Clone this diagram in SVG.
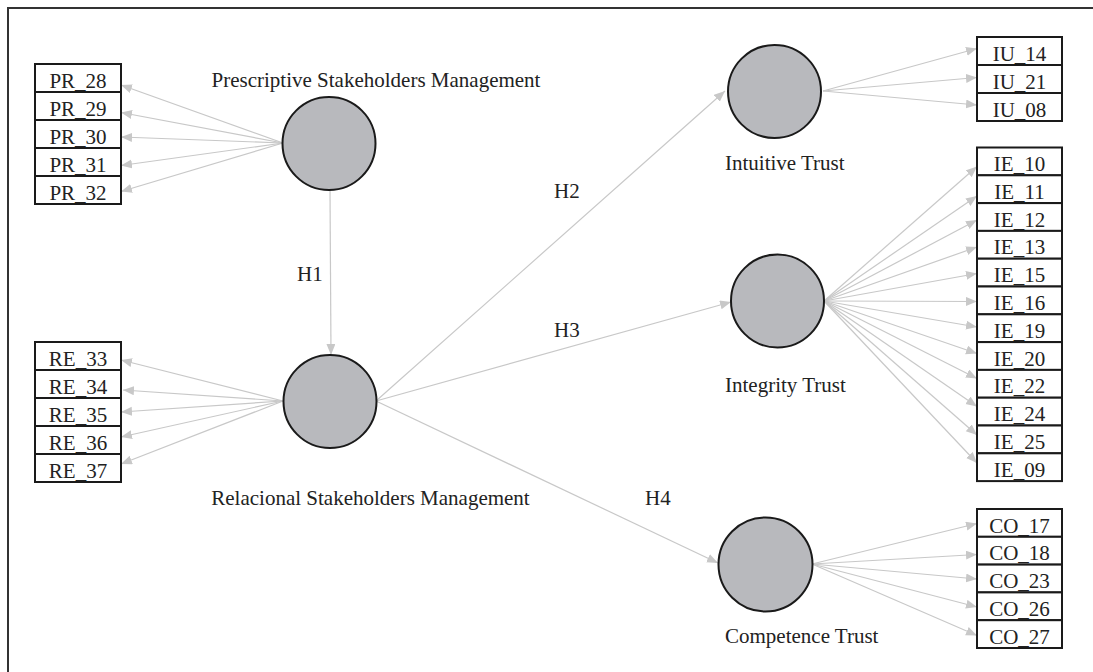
<svg xmlns="http://www.w3.org/2000/svg" width="1093" height="672" viewBox="0 0 1093 672">
<defs>
<style>
.lv{fill:#b8b9bd;stroke:#1a1a1a;stroke-width:2}
.bx{fill:#fff;stroke:#1a1a1a;stroke-width:2}
.t{font-family:"Liberation Serif","Times New Roman",serif;font-size:21px;fill:#222}
.c{text-anchor:middle}
.cn line{stroke:#c8c8c8;stroke-width:1.2;marker-end:url(#ah)}
</style>
<marker id="ah" markerUnits="userSpaceOnUse" markerWidth="12" markerHeight="10" refX="11" refY="4.5" orient="auto">
<path d="M0,0 L11,4.5 L0,9 z" fill="#c8c8c8"/>
</marker>
</defs>
<rect width="1093" height="672" fill="#fff"/>
<path d="M8,672 V8 H1093" fill="none" stroke="#333" stroke-width="2"/>

<g id="connectors" class="cn">
<line x1="283" y1="143" x2="121" y2="85"/>
<line x1="283" y1="143" x2="121" y2="112.5"/>
<line x1="283" y1="143" x2="121" y2="137"/>
<line x1="283" y1="143" x2="121" y2="165.5"/>
<line x1="283" y1="143" x2="121" y2="191.5"/>
<line x1="283" y1="401" x2="121" y2="360"/>
<line x1="283" y1="401" x2="123" y2="390"/>
<line x1="283" y1="401" x2="121" y2="412"/>
<line x1="283" y1="401" x2="121" y2="437"/>
<line x1="283" y1="401" x2="121" y2="464"/>
<line x1="330" y1="190" x2="331" y2="355"/>
<line x1="376" y1="401" x2="725" y2="91"/>
<line x1="376" y1="401" x2="731" y2="302"/>
<line x1="376" y1="401" x2="718" y2="563"/>
<line x1="823" y1="91" x2="977" y2="48.5"/>
<line x1="823" y1="91" x2="977" y2="77.5"/>
<line x1="823" y1="91" x2="977" y2="105"/>
<line x1="824" y1="301" x2="977" y2="166.5"/>
<line x1="824" y1="301" x2="977" y2="196"/>
<line x1="824" y1="301" x2="977" y2="220"/>
<line x1="824" y1="301" x2="977" y2="247"/>
<line x1="824" y1="301" x2="977" y2="273.5"/>
<line x1="824" y1="301" x2="977" y2="301.5"/>
<line x1="824" y1="301" x2="977" y2="327"/>
<line x1="824" y1="301" x2="977" y2="353.5"/>
<line x1="824" y1="301" x2="977" y2="378.5"/>
<line x1="824" y1="301" x2="977" y2="406.5"/>
<line x1="824" y1="301" x2="977" y2="435"/>
<line x1="824" y1="301" x2="977" y2="463"/>
<line x1="812" y1="564" x2="977" y2="523.5"/>
<line x1="812" y1="564" x2="977" y2="554.5"/>
<line x1="812" y1="564" x2="977" y2="579"/>
<line x1="812" y1="564" x2="977" y2="607"/>
<line x1="812" y1="564" x2="977" y2="635.5"/>
</g>

<g id="labels-h">
<text class="t" x="297" y="281">H1</text>
<text class="t" x="554" y="198">H2</text>
<text class="t" x="554" y="337">H3</text>
<text class="t" x="645" y="505">H4</text>
</g>

<g id="psm"><circle class="lv" cx="329" cy="143.5" r="46.5"/><text class="t c" x="376" y="87">Prescriptive Stakeholders Management</text></g>
<g id="rsm"><circle class="lv" cx="330" cy="401.5" r="46.5"/><text class="t c" x="370.5" y="505">Relacional Stakeholders Management</text></g>
<g id="it"><circle class="lv" cx="774.5" cy="91.5" r="46.5"/><text class="t" x="725" y="170">Intuitive Trust</text></g>
<g id="gt"><circle class="lv" cx="777.5" cy="301" r="46.5"/><text class="t" x="725" y="392">Integrity Trust</text></g>
<g id="ct"><circle class="lv" cx="765.5" cy="564.5" r="47"/><text class="t" x="725" y="643">Competence Trust</text></g>

<g id="pr28"><rect class="bx" x="35" y="64" width="86" height="28"/><text class="t c" x="78" y="87.5">PR_28</text></g>
<g id="pr29"><rect class="bx" x="35" y="92" width="86" height="28"/><text class="t c" x="78" y="115.5">PR_29</text></g>
<g id="pr30"><rect class="bx" x="35" y="120" width="86" height="28"/><text class="t c" x="78" y="143.5">PR_30</text></g>
<g id="pr31"><rect class="bx" x="35" y="148" width="86" height="28"/><text class="t c" x="78" y="171.5">PR_31</text></g>
<g id="pr32"><rect class="bx" x="35" y="176" width="86" height="28"/><text class="t c" x="78" y="199.5">PR_32</text></g>

<g id="re33"><rect class="bx" x="35" y="342" width="86" height="28"/><text class="t c" x="78" y="365.5">RE_33</text></g>
<g id="re34"><rect class="bx" x="35" y="370" width="86" height="28"/><text class="t c" x="78" y="393.5">RE_34</text></g>
<g id="re35"><rect class="bx" x="35" y="398" width="86" height="28"/><text class="t c" x="78" y="421.5">RE_35</text></g>
<g id="re36"><rect class="bx" x="35" y="426" width="86" height="28"/><text class="t c" x="78" y="449.5">RE_36</text></g>
<g id="re37"><rect class="bx" x="35" y="454" width="86" height="28"/><text class="t c" x="78" y="477.5">RE_37</text></g>

<g id="iu14"><rect class="bx" x="977" y="37" width="85" height="28"/><text class="t c" x="1019.5" y="60.5">IU_14</text></g>
<g id="iu21"><rect class="bx" x="977" y="65" width="85" height="28"/><text class="t c" x="1019.5" y="88.5">IU_21</text></g>
<g id="iu08"><rect class="bx" x="977" y="93" width="85" height="28"/><text class="t c" x="1019.5" y="116.5">IU_08</text></g>

<g id="ie10"><rect class="bx" x="977" y="147.5" width="85" height="27.8"/><text class="t c" x="1019.5" y="171">IE_10</text></g>
<g id="ie11"><rect class="bx" x="977" y="175.3" width="85" height="27.8"/><text class="t c" x="1019.5" y="198.8">IE_11</text></g>
<g id="ie12"><rect class="bx" x="977" y="203.1" width="85" height="27.8"/><text class="t c" x="1019.5" y="226.6">IE_12</text></g>
<g id="ie13"><rect class="bx" x="977" y="230.9" width="85" height="27.8"/><text class="t c" x="1019.5" y="254.4">IE_13</text></g>
<g id="ie15"><rect class="bx" x="977" y="258.7" width="85" height="27.8"/><text class="t c" x="1019.5" y="282.2">IE_15</text></g>
<g id="ie16"><rect class="bx" x="977" y="286.5" width="85" height="27.8"/><text class="t c" x="1019.5" y="310">IE_16</text></g>
<g id="ie19"><rect class="bx" x="977" y="314.3" width="85" height="27.8"/><text class="t c" x="1019.5" y="337.8">IE_19</text></g>
<g id="ie20"><rect class="bx" x="977" y="342.1" width="85" height="27.8"/><text class="t c" x="1019.5" y="365.6">IE_20</text></g>
<g id="ie22"><rect class="bx" x="977" y="369.9" width="85" height="27.8"/><text class="t c" x="1019.5" y="393.4">IE_22</text></g>
<g id="ie24"><rect class="bx" x="977" y="397.7" width="85" height="27.8"/><text class="t c" x="1019.5" y="421.2">IE_24</text></g>
<g id="ie25"><rect class="bx" x="977" y="425.5" width="85" height="27.8"/><text class="t c" x="1019.5" y="449">IE_25</text></g>
<g id="ie09"><rect class="bx" x="977" y="453.3" width="85" height="27.8"/><text class="t c" x="1019.5" y="476.8">IE_09</text></g>

<g id="co17"><rect class="bx" x="977" y="509" width="85" height="27.8"/><text class="t c" x="1019.5" y="532.5">CO_17</text></g>
<g id="co18"><rect class="bx" x="977" y="536.8" width="85" height="27.8"/><text class="t c" x="1019.5" y="560.3">CO_18</text></g>
<g id="co23"><rect class="bx" x="977" y="564.6" width="85" height="27.8"/><text class="t c" x="1019.5" y="588.1">CO_23</text></g>
<g id="co26"><rect class="bx" x="977" y="592.4" width="85" height="27.8"/><text class="t c" x="1019.5" y="615.9">CO_26</text></g>
<g id="co27"><rect class="bx" x="977" y="620.2" width="85" height="27.8"/><text class="t c" x="1019.5" y="643.7">CO_27</text></g>
</svg>
